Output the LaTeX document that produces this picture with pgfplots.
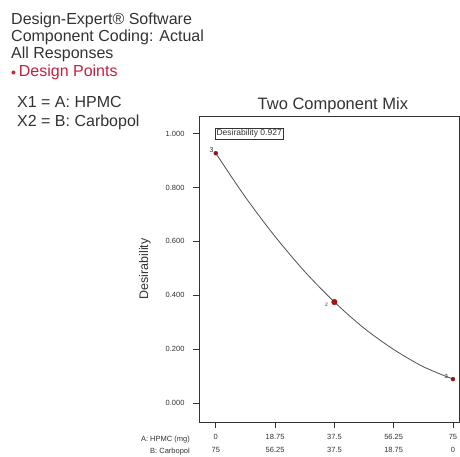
\documentclass[border=0pt]{standalone}
\usepackage{pgfplots}
\pgfplotsset{compat=1.18}
\usepackage{fontspec}
\setmainfont{Liberation Sans}
\definecolor{txt}{HTML}{333333}
\definecolor{dpred}{HTML}{C8203C}
\definecolor{ptred}{HTML}{8B1A1A}
\begin{document}
\begin{tikzpicture}[x=1pt,y=1pt]
\useasboundingbox (0pt,0pt) rectangle (460pt,456pt);
\fill[white] (0pt,0pt) rectangle (460pt,456pt);
\begin{scope}[every node/.style={anchor=base west,inner sep=0pt,text=txt,font=\fontsize{16}{18}\selectfont}]
\node at (11pt,431pt) {Design-Expert\textregistered\ Software};
\node at (11pt,414pt) {Component Coding: Actual};
\node at (11pt,397pt) {All Responses};
\node[text=dpred] at (11pt,379pt) {{\fontsize{10}{10}\selectfont\raisebox{1.5pt}{$\bullet$}}\,Design Points};
\node at (17pt,348pt) {X1 = A: HPMC};
\node at (17pt,330pt) {X2 = B: Carbopol};
\end{scope}
\begin{axis}[
  at={(199pt,34pt)}, anchor=south west,
  scale only axis, width=260pt, height=306pt,
  xmin=-5.3, xmax=76.9, ymin=-0.07, ymax=1.065,
  axis line style={txt, line width=0.9pt},
  xtick={0,18.75,37.5,56.25,75},
  xticklabels={0\\75, 18.75\\56.25, 37.5\\37.5, 56.25\\18.75, 75\\0},
  xticklabel style={align=center, font=\fontsize{7.5}{13}\selectfont, text=txt, yshift=-3pt},
  ytick={0,0.2,0.4,0.6,0.8,1},
  yticklabels={0.000,0.200,0.400,0.600,0.800,1.000},
  yticklabel style={font=\fontsize{7.5}{8}\selectfont, text=txt, xshift=-5pt},
  tick align=outside, tick pos=left,
  major tick length=6pt,
  tick style={txt, line width=0.8pt},
  title={Two Component Mix},
  title style={font=\fontsize{16.5}{17}\selectfont, text=txt, at={(0.515,1)}, yshift=-6pt},
  ylabel={Desirability},
  ylabel style={font=\fontsize{12.5}{13}\selectfont, text=txt, yshift=8pt},
  clip=false,
]
\addplot[smooth, color=txt!85, line width=0.8pt] coordinates {
 (0,0.927) (9.375,0.764) (18.75,0.618) (28.125,0.488) (37.5,0.375)
 (46.875,0.278) (56.25,0.199) (65.625,0.135) (75,0.089)};
\addplot[only marks, mark=*, mark size=2pt, color=ptred] coordinates {(0,0.927) (75,0.089)};
\addplot[only marks, mark=*, mark size=2.8pt, color=ptred!80!red] coordinates {(37.5,0.375)};
\node[anchor=east, font=\fontsize{7}{7}\selectfont, text=txt, inner sep=1pt] at (axis cs:-0.3,0.937) {3};
\node[anchor=east, font=\fontsize{5}{5}\selectfont, text=txt, inner sep=1pt] at (axis cs:35.8,0.365) {2};
\node[anchor=east, font=\fontsize{6}{6}\selectfont, text=txt, inner sep=1pt] at (axis cs:73.8,0.099) {3};
\node[draw=txt, line width=0.5pt, fill=white, anchor=north west, font=\fontsize{8.5}{8.5}\selectfont, text=txt, inner sep=1.8pt] at (axis cs:-0.4,1.022) {Desirability 0.927};
\end{axis}
\node[anchor=base east, font=\fontsize{7.5}{8}\selectfont, text=txt, inner sep=0pt] at (190pt,15pt) {A: HPMC (mg)};
\node[anchor=base east, font=\fontsize{7.5}{8}\selectfont, text=txt, inner sep=0pt] at (190pt,3pt) {B: Carbopol};
\end{tikzpicture}
\end{document}
